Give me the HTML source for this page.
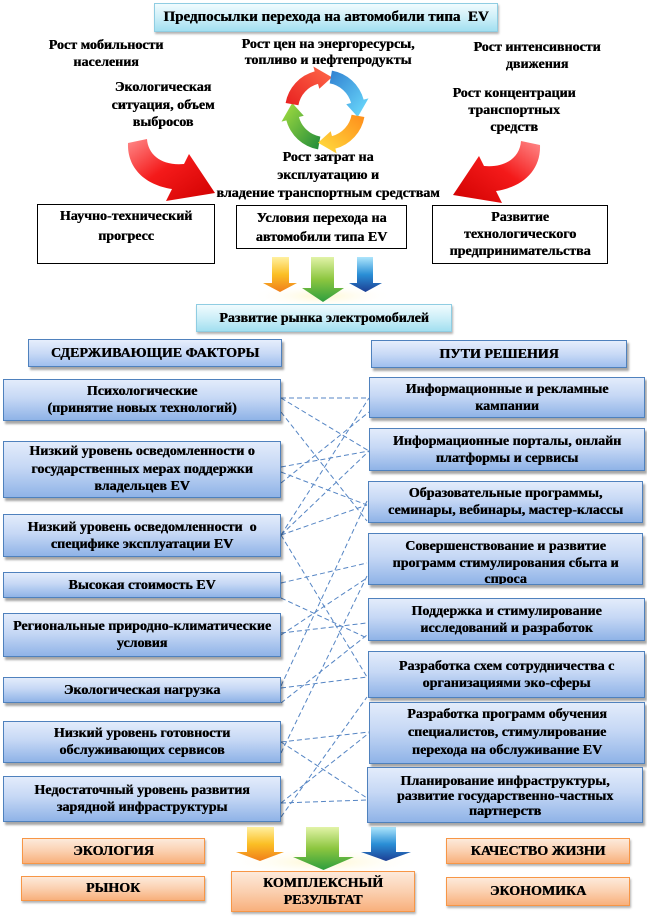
<!DOCTYPE html>
<html><head><meta charset="utf-8">
<style>
*{margin:0;padding:0;box-sizing:border-box}
html,body{width:647px;height:917px;background:#fff;overflow:hidden}
body{position:relative;font-family:"Liberation Serif","Noto Serif CJK SC",serif;font-weight:bold;color:#000;text-shadow:0.4px 0 0 #000}
.t{position:absolute;text-align:center;font-size:14px;line-height:17px;white-space:nowrap;transform:translateX(-50%)}
.bx{position:absolute;display:flex;flex-direction:column;align-items:center;justify-content:center;text-align:center;font-size:14px;line-height:17px;white-space:nowrap;overflow:hidden}
.blue{background:linear-gradient(#e3ecfb,#c6d8f5 45%,#8fb3e7);border:1px solid #4f81bd;box-shadow:2px 3px 2px rgba(0,0,0,.35)}
.hdr{background:linear-gradient(#e6eefc,#c9daf6 50%,#9fbfee);border:1px solid #4f81bd;box-shadow:2px 3px 2px rgba(0,0,0,.35)}
.cyan{background:linear-gradient(#f0fbfe,#cdeff8 50%,#a2dff0);border:1px solid #8fcde2;box-shadow:1px 2px 2px rgba(0,0,0,.3)}
.wht{background:#fff;border:1px solid #000;justify-content:flex-start}
.org{background:linear-gradient(#fdeadb,#fbd0b0 50%,#f8b07c);border:1px solid #f79646;box-shadow:1px 2px 2px rgba(0,0,0,.3)}
.top{justify-content:flex-start}
svg{position:absolute;left:0;top:0}
</style></head><body>

<svg width="647" height="917" viewBox="0 0 647 917">
<defs>
<linearGradient id="rg" x1="0" y1="0" x2="1" y2="1">
<stop offset="0" stop-color="#ff8a8a"/><stop offset="0.45" stop-color="#f41a1a"/><stop offset="1" stop-color="#d00000"/>
</linearGradient>
<linearGradient id="og" x1="0" y1="0" x2="0" y2="1">
<stop offset="0" stop-color="#fff0a0"/><stop offset="0.5" stop-color="#fbbf25"/><stop offset="1" stop-color="#f07e1a"/>
</linearGradient>
<linearGradient id="gg" x1="0" y1="0" x2="0" y2="1">
<stop offset="0" stop-color="#e2f3a8"/><stop offset="0.5" stop-color="#8cc63f"/><stop offset="1" stop-color="#2e9e3e"/>
</linearGradient>
<linearGradient id="bg" x1="0" y1="0" x2="0" y2="1">
<stop offset="0" stop-color="#aee6fc"/><stop offset="0.5" stop-color="#2a8fd6"/><stop offset="1" stop-color="#1c3f94"/>
</linearGradient>
<linearGradient id="cr" x1="0" y1="1" x2="1" y2="0"><stop offset="0" stop-color="#e82020"/><stop offset="1" stop-color="#ff6a4a"/></linearGradient>
<linearGradient id="cb" x1="0" y1="0" x2="1" y2="1"><stop offset="0" stop-color="#2f7fd0"/><stop offset="1" stop-color="#6fe0ff"/></linearGradient>
<linearGradient id="co" x1="1" y1="0" x2="0" y2="1"><stop offset="0" stop-color="#ff8c1a"/><stop offset="1" stop-color="#ffe040"/></linearGradient>
<linearGradient id="cg" x1="1" y1="1" x2="0" y2="0"><stop offset="0" stop-color="#1f8a3a"/><stop offset="1" stop-color="#a8e040"/></linearGradient>
<radialGradient id="glow" cx="0.5" cy="0.5" r="0.5"><stop offset="0" stop-color="#fff6c8" stop-opacity="0.9"/><stop offset="1" stop-color="#ffffff" stop-opacity="0"/></radialGradient>
</defs>

<path d="M 128,143 L 147,139 C 148,155 162,166 184,164 L 189,154 L 215,193 L 166,201 L 172,189 C 145,185 127,168 128,143 Z" fill="url(#rg)"/>
<g transform="translate(668,2) scale(-1,1)">
<path d="M 128,143 L 147,139 C 148,155 162,166 184,164 L 189,154 L 215,193 L 166,201 L 172,189 C 145,185 127,168 128,143 Z" fill="url(#rg)"/>
</g>

<path d="M 318.06,149.39 A 40 40 0 0 1 286.36,120.35 L 281.53,121.65 L 292.23,103.04 L 303.75,115.69 L 298.92,116.99 A 27 27 0 0 0 320.31,136.59 Z" fill="url(#cg)"/>
<path d="M 285.61,103.06 A 40 40 0 0 1 314.65,71.36 L 313.35,66.53 L 331.96,77.23 L 319.31,88.75 L 318.01,83.92 A 27 27 0 0 0 298.41,105.31 Z" fill="url(#cr)"/>
<path d="M 331.94,70.61 A 40 40 0 0 1 363.64,99.65 L 368.47,98.35 L 357.77,116.96 L 346.25,104.31 L 351.08,103.01 A 27 27 0 0 0 329.69,83.41 Z" fill="url(#cb)"/>
<path d="M 364.39,116.94 A 40 40 0 0 1 335.35,148.64 L 336.65,153.47 L 318.04,142.77 L 330.69,131.25 L 331.99,136.08 A 27 27 0 0 0 351.59,114.69 Z" fill="url(#co)"/>

<ellipse cx="322" cy="296" rx="70" ry="12" fill="url(#glow)"/>
<polygon points="272,257 289,257 289,283 297,283 280,292 263,283 272,283" fill="url(#og)"/>
<polygon points="311,257 334,257 334,288 344,288 323,302 302,288 311,288" fill="url(#gg)"/>
<polygon points="357,257 373,257 373,283 382,283 365.5,292 349,283 357,283" fill="url(#bg)"/>

<ellipse cx="323" cy="862" rx="100" ry="14" fill="url(#glow)"/>
<polygon points="247,827 274,827 274,852 284,852 260,861 236,852 247,852" fill="url(#og)"/>
<polygon points="306,827 339,827 339,857 354,857 323.5,870 293,857 306,857" fill="url(#gg)"/>
<polygon points="371,827 396,827 396,852 411,852 386,861 361,852 371,852" fill="url(#bg)"/>

<g stroke="#5585c4" stroke-width="1" stroke-dasharray="5,3" fill="none">
<line x1="281" y1="398" x2="369" y2="398"/>
<line x1="281" y1="398" x2="369" y2="451"/>
<line x1="281" y1="412" x2="367" y2="521"/>
<line x1="281" y1="483" x2="369" y2="412"/>
<line x1="281" y1="467" x2="369" y2="451"/>
<line x1="281" y1="472" x2="367" y2="505"/>
<line x1="281" y1="535" x2="369" y2="398"/>
<line x1="281" y1="535" x2="369" y2="451"/>
<line x1="281" y1="535" x2="367" y2="505"/>
<line x1="281" y1="535" x2="367" y2="677"/>
<line x1="281" y1="583" x2="367" y2="563"/>
<line x1="281" y1="598" x2="367" y2="638"/>
<line x1="281" y1="633" x2="367" y2="623"/>
<line x1="281" y1="635" x2="367" y2="578"/>
<line x1="281" y1="686" x2="367" y2="501"/>
<line x1="281" y1="688" x2="367" y2="677"/>
<line x1="281" y1="703" x2="367" y2="635"/>
<line x1="281" y1="742" x2="369" y2="732"/>
<line x1="281" y1="742" x2="367" y2="798"/>
<line x1="281" y1="753" x2="367" y2="576"/>
<line x1="281" y1="803" x2="367" y2="800"/>
<line x1="281" y1="803" x2="369" y2="733"/>
<line x1="281" y1="817" x2="367" y2="697"/>
</g>
</svg>

<div class="bx cyan" style="left:154px;top:3px;width:344px;height:29px;font-size:15px;">Предпосылки перехода на автомобили типа&nbsp; EV</div>

<div class="t" style="left:106px;top:37px;">Рост мобильности<br>населения</div>
<div class="t" style="left:328px;top:37px;line-height:16px;">Рост цен на энергоресурсы,<br>топливо и нефтепродукты</div>
<div class="t" style="left:537px;top:39px;">Рост интенсивности<br>движения</div>
<div class="t" style="left:163px;top:79px;line-height:17.5px;">Экологическая<br>ситуация, объем<br>выбросов</div>
<div class="t" style="left:514px;top:85px;">Рост концентрации<br>транспортных<br>средств</div>
<div class="t" style="left:328px;top:149px;line-height:18px;">Рост затрат на<br>эксплуатацию и<br>владение транспортным средствам</div>

<div class="bx wht" style="left:37px;top:204px;width:178px;height:60px;line-height:20px;padding-top:2px;">Научно-технический<br>прогресс</div>
<div class="bx wht" style="left:236px;top:205px;width:171px;height:44px;line-height:19px;padding-top:3px;">Условия перехода на<br>автомобили типа EV</div>
<div class="bx wht" style="left:432px;top:205px;width:176px;height:59px;padding-top:3px;">Развитие<br>технологического<br>предпринимательства</div>

<div class="bx cyan" style="left:196px;top:304px;width:256px;height:28px;">Развитие рынка электромобилей</div>

<div class="bx hdr" style="left:28px;top:339px;width:254px;height:28px;">СДЕРЖИВАЮЩИЕ ФАКТОРЫ</div>
<div class="bx hdr" style="left:371px;top:340px;width:256px;height:28px;">ПУТИ РЕШЕНИЯ</div>

<div class="bx blue" style="left:3px;top:379px;width:278px;height:42px;">Психологические<br>(принятие новых технологий)</div>
<div class="bx blue" style="left:3px;top:441px;width:278px;height:57px;line-height:17.5px;">Низкий уровень осведомленности о<br>государственных мерах поддержки<br>владельцев EV</div>
<div class="bx blue" style="left:3px;top:514px;width:278px;height:43px;">Низкий уровень осведомленности&nbsp; о<br>специфике эксплуатации EV</div>
<div class="bx blue" style="left:3px;top:572px;width:278px;height:26px;">Высокая стоимость EV</div>
<div class="bx blue" style="left:3px;top:613px;width:278px;height:44px;">Региональные природно-климатические<br>условия</div>
<div class="bx blue" style="left:3px;top:677px;width:278px;height:26px;">Экологическая нагрузка</div>
<div class="bx blue" style="left:3px;top:721px;width:278px;height:42px;">Низкий уровень готовности<br>обслуживающих сервисов</div>
<div class="bx blue" style="left:3px;top:776px;width:278px;height:46px;">Недостаточный уровень развития<br>зарядной инфраструктуры</div>

<div class="bx blue" style="left:369px;top:377px;width:276px;height:41px;">Информационные и рекламные<br>кампании</div>
<div class="bx blue" style="left:369px;top:428px;width:276px;height:43px;">Информационные порталы, онлайн<br>платформы и сервисы</div>
<div class="bx blue" style="left:368px;top:481px;width:275px;height:42px;">Образовательные программы,<br>семинары, вебинары, мастер-классы</div>
<div class="bx blue top" style="left:368px;top:533px;width:275px;height:52px;padding-top:5px;line-height:16.5px;">Совершенствование и развитие<br>программ стимулирования сбыта и<br>спроса</div>
<div class="bx blue" style="left:368px;top:598px;width:277px;height:43px;">Поддержка и стимулирование<br>исследований и разработок</div>
<div class="bx blue" style="left:368px;top:651px;width:277px;height:47px;">Разработка схем сотрудничества с<br>организациями эко-сферы</div>
<div class="bx blue" style="left:369px;top:702px;width:276px;height:62px;line-height:18px;">Разработка программ обучения<br>специалистов, стимулирование<br>перехода на обслуживание EV</div>
<div class="bx blue top" style="left:367px;top:767px;width:276px;height:56px;padding-top:6px;line-height:15px;">Планирование инфраструктуры,<br>развитие государственно-частных<br>партнерств</div>

<div class="bx org" style="left:22px;top:838px;width:183px;height:26px;">ЭКОЛОГИЯ</div>
<div class="bx org" style="left:21px;top:876px;width:184px;height:25px;">РЫНОК</div>
<div class="bx org" style="left:231px;top:871px;width:184px;height:41px;">КОМПЛЕКСНЫЙ<br>РЕЗУЛЬТАТ</div>
<div class="bx org" style="left:446px;top:838px;width:184px;height:26px;">КАЧЕСТВО ЖИЗНИ</div>
<div class="bx org" style="left:446px;top:877px;width:184px;height:29px;">ЭКОНОМИКА</div>

</body></html>
